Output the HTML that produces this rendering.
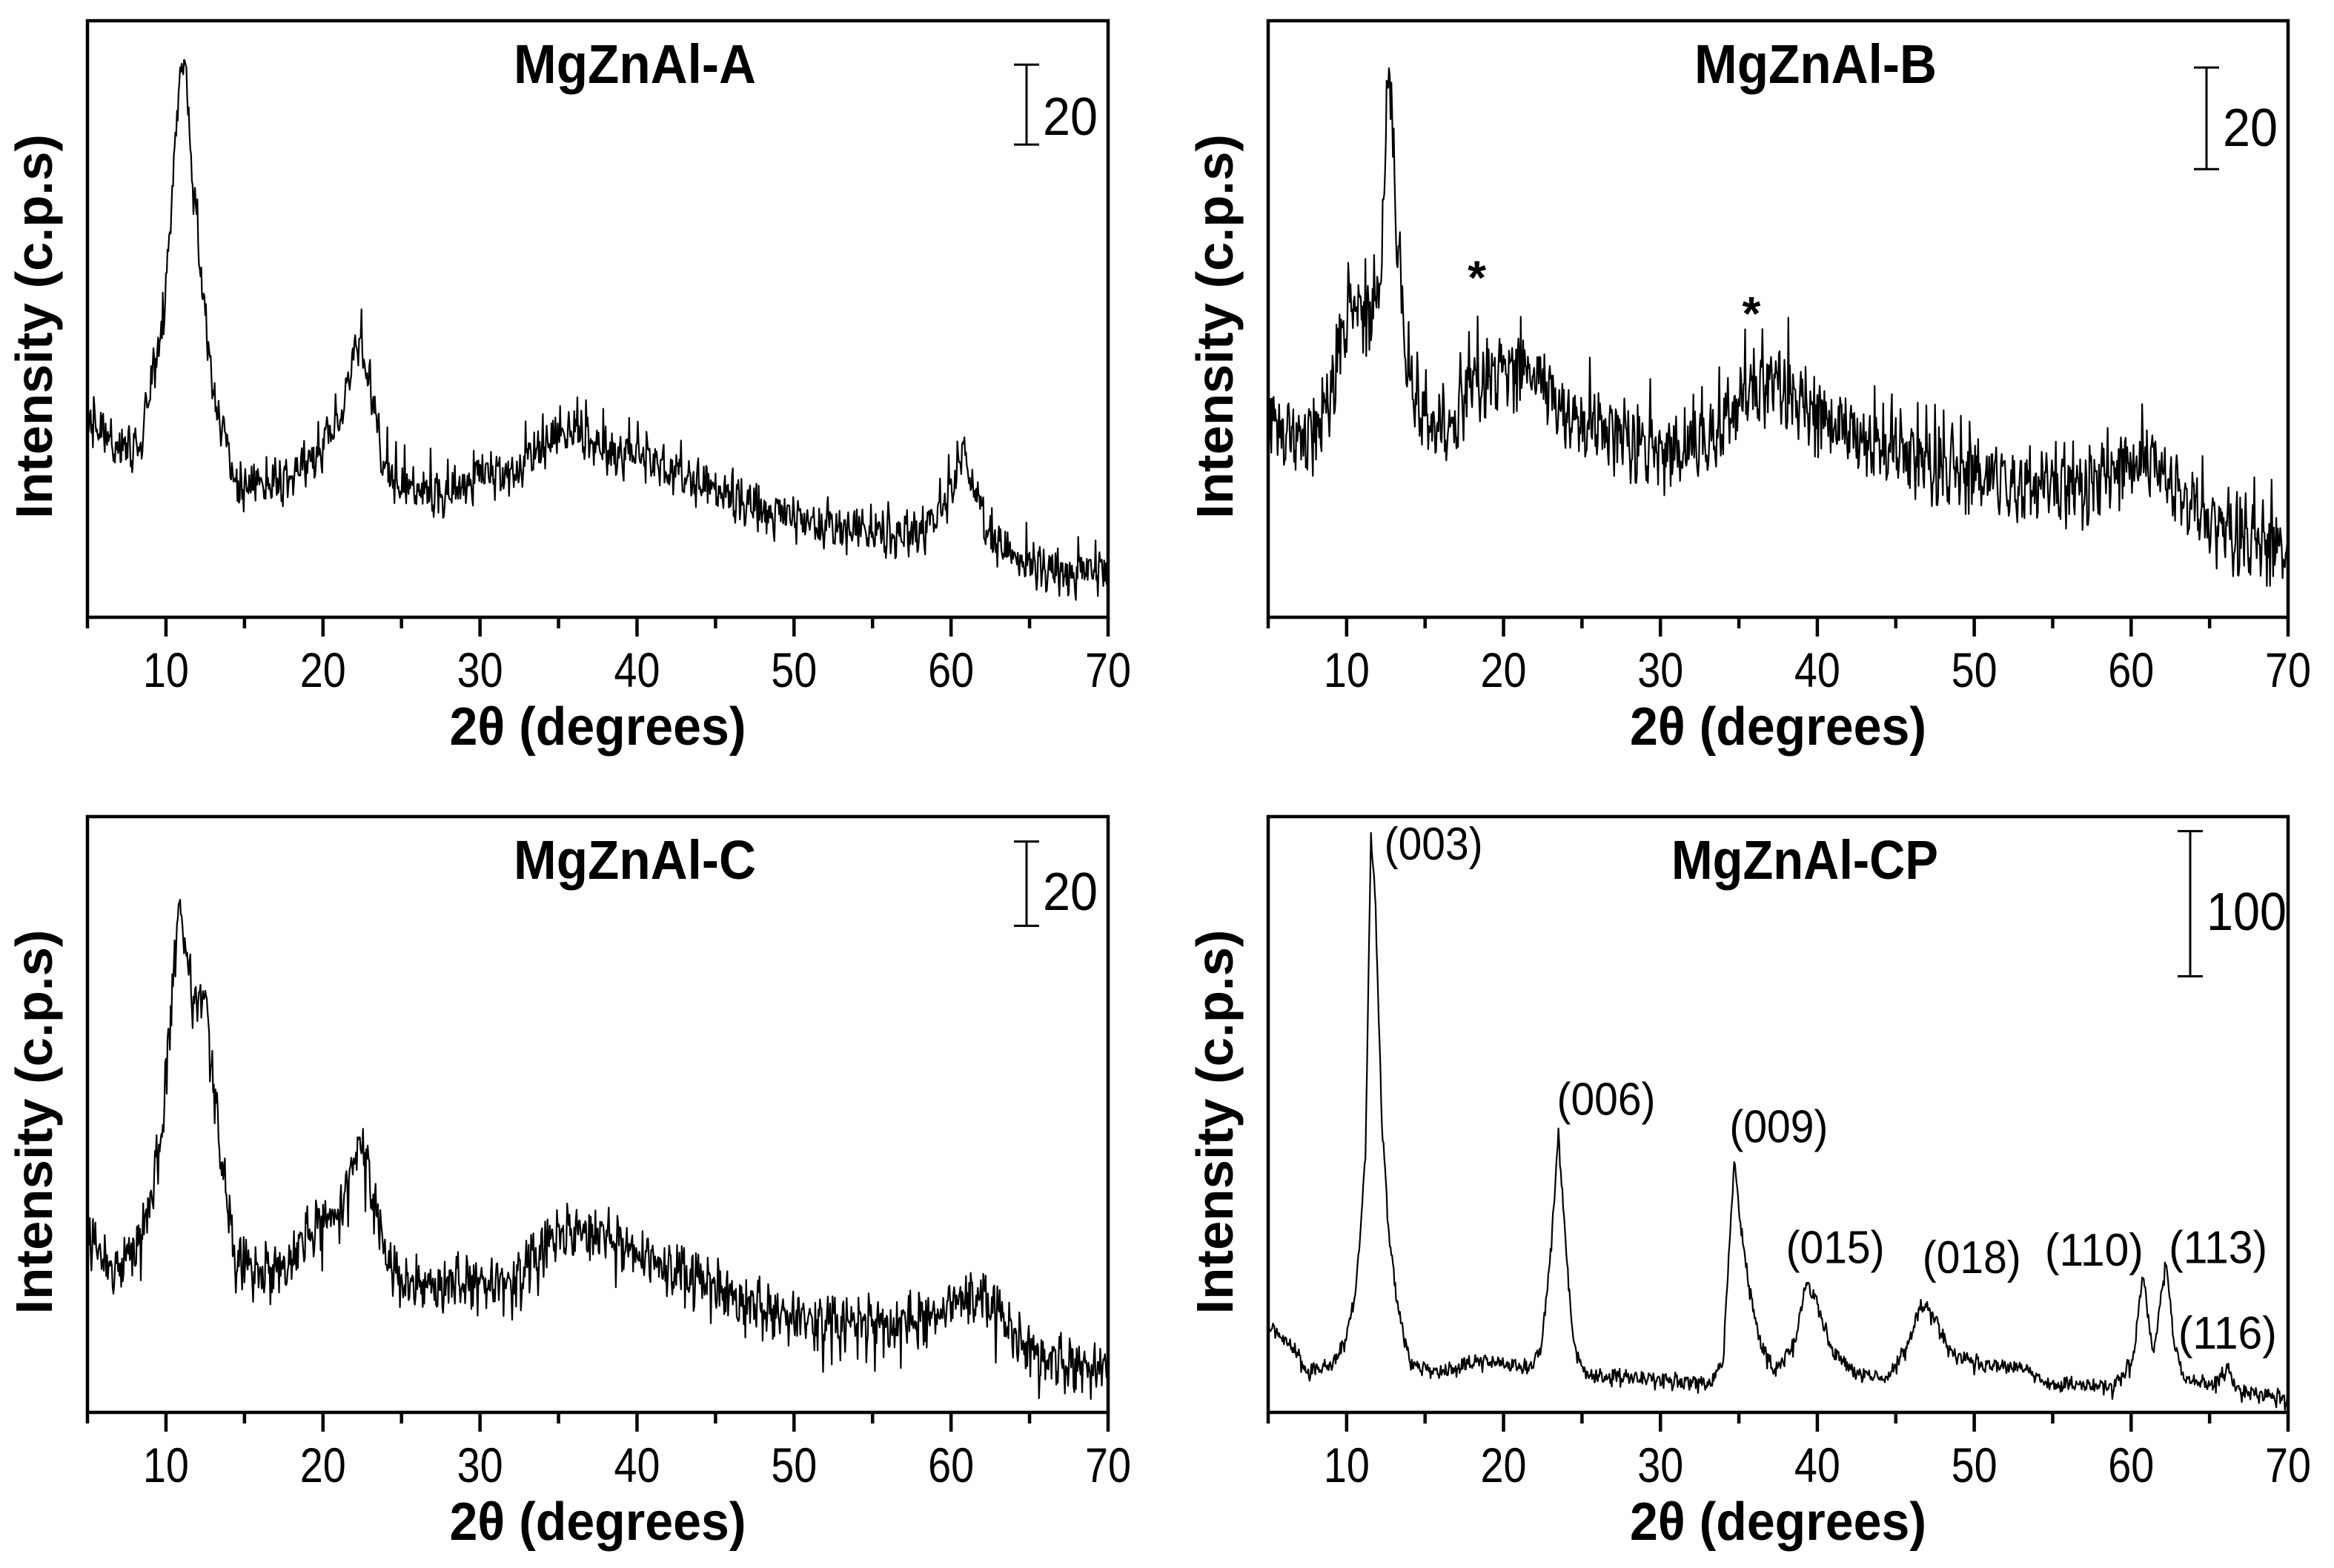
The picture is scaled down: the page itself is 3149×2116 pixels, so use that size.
<!DOCTYPE html>
<html><head><meta charset="utf-8">
<style>
html,body{margin:0;padding:0;background:#fff;}
svg{display:block;font-family:"Liberation Sans",Arial,sans-serif;}
</style></head>
<body>
<svg id="fig" xmlns="http://www.w3.org/2000/svg" width="3149" height="2116" viewBox="0 0 3149 2116">
<rect x="0" y="0" width="3149" height="2116" fill="#fff"/>
</svg>
<script>
// ---- data (2theta in degrees, intensity in counts) ----
const xTicks = [10,20,30,40,50,60,70];
const xMinorTicks = [5,15,25,35,45,55,65];
const xTickLabels = ["10","20","30","40","50","60","70"];

const aX = [5,6.7,8.3,9.1,9.8,10.4,11.0,11.3,11.6,12.3,12.9,13.7,14.5,17.4,19.5,21.2,22.0,22.4,23.0,23.65,24.9,27.8,29.9,31.9,34.0,36.1,38.2,40.2,44.4,48.5,52.7,56.8,58.9,60.1,60.75,61.4,62.2,63.9,67.2,70];
const aY = [49.9,41.7,41.7,58.8,73,106,139,134,113,83,59,44.6,32,33,40,49,67,68,59,40,32,30,35,35,42.6,46.5,40.7,40,32,25.5,21.7,19.8,22.7,32,42,33,21.7,14,10.3,11.2];

const bX = [5,6.7,8.3,9.1,10,10.8,11.6,12.25,12.6,12.9,13.3,13.9,14.9,16.6,17.85,19.9,21.6,22.8,24.5,27.8,30.7,33.2,35.7,37.7,39,41.5,44.4,48.5,52.7,56.8,60.1,61.8,63,65.1,70];
const bY = [38.8,33.6,36.5,46.3,59,61,57.5,70,106,96,68.8,48.5,38.8,35,46.3,47.8,48.5,44,38,35,31.3,35,44,46.3,41,36.5,32.8,29,25.3,25.3,29.8,29.8,23.8,17.8,12.6];

const cX = [5,6.7,8.3,9.1,9.8,10.2,10.8,11.2,11.8,12.5,13.1,13.7,14.3,15.8,17.4,19.5,21.2,22.4,23,23.65,24.9,27.8,31.9,34.8,36.9,40.2,44.4,48.5,52.7,56.8,58.9,61,62.6,64.3,67.2,70];
const cY = [42,33,42,51,69,90,120,113,96,100,76,56,38,33,35,44,48.5,66,56,42,30.5,31,31,42,44,37.7,31,24,21.4,21.4,23,28.7,26,17,11.5,10.6];

const dX = [5,6.7,7.5,9.1,10,10.6,11.2,11.55,11.85,12.25,12.7,13.3,14.1,15.8,18.7,21.6,22.4,23.0,23.5,24.0,24.5,25.3,29.9,33.2,34.0,34.7,35.05,35.7,36.5,37.3,38.6,39.3,40.0,40.9,42.3,44.4,45.6,46.7,47.5,48.5,50.6,53.1,54.7,58.9,60.1,60.75,61.4,62.2,62.8,63.4,65.5,66.1,66.8,70];
const dY = [60,44,28,33,52,86,175,402,345,201,122,70,33,28,36,31,44,109,193,109,44,26,23,20,36,175,135,83,44,28,49,91,75,44,28,23,44,75,65,41,33,31,20,18,36,96,39,104,44,23,20,31,15,10];

// hand-read fluctuation pattern (relative units)
const noisePattern = [0.3,-0.8,0.6,-0.2,0.9,-0.5,0.1,-1,0.7,-0.3,0.4,-0.7,1,-0.1,-0.6,0.5,-0.9,0.2,0.8,-0.4,0,-0.8,0.6,0.3,-0.5,0.9,-0.2,-1,0.4,0.7,-0.6,0.1,0.5,-0.3,-0.9,0.8,0.2,-0.7,0.6,-0.1,1,-0.4,-0.8,0.3,0.7,-0.5,0.1,-0.9,0.5,0.9,-0.3,-0.6,0.2,0.8,-1,0.4,-0.2,0.6,-0.7,0.3,0.9,-0.5,-0.1,0.7];

const dLabels = ["(003)","(006)","(009)","(015)","(018)","(110)","(113)","(116)"];
const dLabelX = [12.4,23.4,34.4,38.0,46.7,54.5,62.4,63.0];
const dLabelY = [381,205,186,103,96,101,103,44];

const bStarX = [18.3,35.8];
const bStarY = [69.5,62.4];

const NS = "http://www.w3.org/2000/svg";
const svg = document.getElementById('fig');
function mk(tag, attrs, parent){
  const e = document.createElementNS(NS, tag);
  for (const k in attrs) e.setAttribute(k, attrs[k]);
  (parent||svg).appendChild(e);
  return e;
}
function interp(xs, ys, x){
  if (x <= xs[0]) return ys[0];
  for (let i=1;i<xs.length;i++){
    if (x <= xs[i]){ const t=(x-xs[i-1])/(xs[i]-xs[i-1]); return ys[i-1]+t*(ys[i]-ys[i-1]); }
  }
  return ys[ys.length-1];
}
function jitter(i, off){
  const N = noisePattern.length;
  let v = 0.65*noisePattern[(i*13 + off) % N] + 0.5*noisePattern[(i*7 + Math.floor(i/3) + off*3) % N];
  const s = noisePattern[(i*29 + Math.floor(i/11) + off) % N];
  if (Math.abs(s) >= 1) v += 0.9*s;
  return v;
}

function panel(cfg){
  const g = mk('g', {});
  
  
  const L=cfg.left, R=cfg.right, T=cfg.top, B=cfg.bottom;
  const sx = v => L + (v-5)/(70-5)*(R-L);
  const sy = v => B - v/cfg.yMax*(B-T);

  let pts = [];
  const n = Math.round((70-5)/0.05);
  for (let i=0;i<=n;i++){
    const x = 5 + i*0.05;
    let y = interp(cfg.xs, cfg.ys, x) + cfg.amp*jitter(i, cfg.off);
    if (y < 0.5) y = 0.5;
    if (y > cfg.yMax-1) y = cfg.yMax-1;
    pts.push(sx(x).toFixed(1)+','+sy(y).toFixed(1));
  }
  const line = mk('polyline', {points: pts.join(' '), fill:'none', stroke:'#000', 'stroke-width':2.2, 'stroke-linejoin':'round'}, g);
  
  

  const fr = mk('rect', {x:L, y:T, width:R-L, height:B-T, fill:'none', stroke:'#000', 'stroke-width':4.5}, g);
  
  

  xTicks.forEach((t,i)=>{
    const tk = mk('line', {x1:sx(t), x2:sx(t), y1:B, y2:B+26, stroke:'#000','stroke-width':4.5}, g);
    
    
    const lb = mk('text', {x:sx(t), y:B+94, 'font-size':66, 'text-anchor':'middle', textLength:62, lengthAdjust:'spacingAndGlyphs'}, g);
    lb.textContent = xTickLabels[i];
    
    
  });
  xMinorTicks.forEach(t=>{
    const tk = mk('line', {x1:sx(t), x2:sx(t), y1:B, y2:B+15, stroke:'#000','stroke-width':4.5}, g);
    
    
  });

  const xt = mk('text', {x:(L+R)/2, y:B+172, 'font-size':72, 'font-weight':'bold', 'text-anchor':'middle', textLength:400, lengthAdjust:'spacingAndGlyphs'}, g);
  xt.textContent = '2θ (degrees)';
  
  

  const yx = L-48, yc = (T+B)/2 + 10;
  const yt = mk('text', {x:0, y:0, 'font-size':70, 'font-weight':'bold', 'text-anchor':'middle', textLength:519, lengthAdjust:'spacingAndGlyphs', transform:`translate(${yx},${yc}) rotate(-90)`}, g);
  yt.textContent = 'Intensity (c.p.s)';
  
  

  const tt = mk('text', {x:cfg.titleX, y:T+84, 'font-size':74, 'font-weight':'bold', textLength:cfg.titleW, lengthAdjust:'spacingAndGlyphs'}, g);
  tt.textContent = cfg.title;
  
  

  const bx = cfg.barX, b0 = sy(cfg.bar[0]), b1 = sy(cfg.bar[1]);
  const sb = mk('g', {}, g);
  
  
  mk('line', {x1:bx, x2:bx, y1:b0, y2:b1, stroke:'#000','stroke-width':3}, sb);
  mk('line', {x1:bx-17, x2:bx+17, y1:b0, y2:b0, stroke:'#000','stroke-width':3}, sb);
  mk('line', {x1:bx-17, x2:bx+17, y1:b1, y2:b1, stroke:'#000','stroke-width':3}, sb);
  const sl = mk('text', {x:bx+22, y:cfg.barLabelY, 'font-size':72, textLength:cfg.barLabelW, lengthAdjust:'spacingAndGlyphs'}, g);
  sl.textContent = cfg.barLabel;
  
  

  return {g, sx, sy};
}

panel({name:'panel-mgznal-a', left:118, right:1495, top:28, bottom:833, yMax:149.3, xs:aX, ys:aY, amp:6, off:0,
  title:'MgZnAl-A', titleX:693, titleW:327, barX:1385, bar:[118.3,138.3], barLabel:'20', barLabelW:74, barLabelY:182});
const pb = panel({name:'panel-mgznal-b', left:1711, right:3087, top:28, bottom:833, yMax:117.4, xs:bX, ys:bY, amp:7.5, off:17,
  title:'MgZnAl-B', titleX:2286, titleW:327, barX:2977, bar:[88.2,108.2], barLabel:'20', barLabelW:74, barLabelY:197});
panel({name:'panel-mgznal-c', left:118, right:1495, top:1102, bottom:1906, yMax:141.3, xs:cX, ys:cY, amp:6.5, off:33,
  title:'MgZnAl-C', titleX:693, titleW:327, barX:1385, bar:[115.4,135.4], barLabel:'20', barLabelW:74, barLabelY:1228});
const pd = panel({name:'panel-mgznal-cp', left:1711, right:3087, top:1102, bottom:1906, yMax:410.5, xs:dX, ys:dY, amp:5, off:49,
  title:'MgZnAl-CP', titleX:2255, titleW:360, barX:2955, bar:[300.5,400.5], barLabel:'100', barLabelW:108, barLabelY:1255});

bStarX.forEach((x,i)=>{
  const s = mk('text', {x:pb.sx(x), y:pb.sy(bStarY[i])+40, 'font-size':64, 'font-weight':'bold', 'text-anchor':'middle'});
  s.textContent = '*';
  
  
});
dLabels.forEach((t,i)=>{
  const s = mk('text', {x:pd.sx(dLabelX[i]), y:pd.sy(dLabelY[i]), 'font-size':62, textLength:t.length*26.6, lengthAdjust:'spacingAndGlyphs'});
  s.textContent = t;
  
  
});
</script>
</body></html>
